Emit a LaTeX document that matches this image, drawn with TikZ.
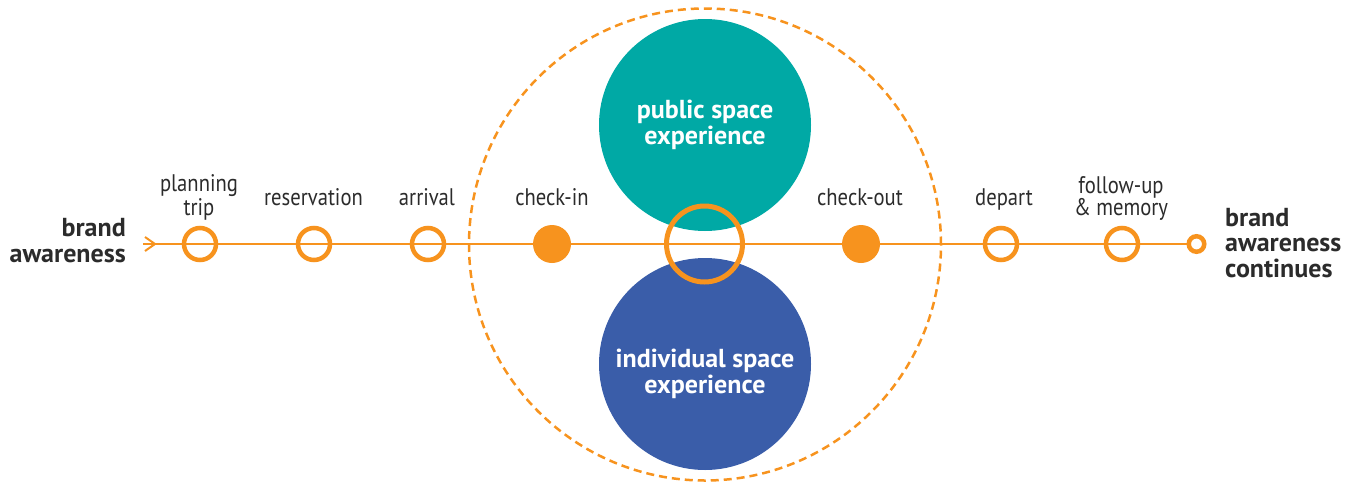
\documentclass[tikz,border=0pt]{standalone}
\usepackage{fontspec}
\setmainfont{PT Sans}
\newfontfamily\lblfont[FakeStretch=0.86]{PT Sans}
\definecolor{jorange}{HTML}{F7931E}
\definecolor{jteal}{HTML}{00A9A5}
\definecolor{jblue}{HTML}{3A5DA9}
\definecolor{jtext}{HTML}{2B2B2B}
\begin{document}
\begin{tikzpicture}[x=1pt,y=-1pt,
  stepring/.style={circle,draw=jorange,line width=4.5pt,minimum size=32pt,inner sep=0pt},
  stepdot/.style={circle,fill=jorange,minimum size=38pt,inner sep=0pt},
  lbl/.style={font=\lblfont\fontsize{24}{22}\selectfont,text=jtext,align=center,inner sep=0pt,anchor=base},
  bigl/.style={font=\fontsize{26}{25.5}\selectfont\bfseries,text=jtext,inner sep=0pt,anchor=base},
  inlbl/.style={font=\fontsize{26}{26}\selectfont\bfseries,text=white,align=center,inner sep=0pt,anchor=base},
  flow/.style={draw=jorange,line width=2pt}]
\useasboundingbox (0,0) rectangle (1361,485);
% big circles
\node[circle,fill=jteal,minimum size=212pt,inner sep=0pt] (pub) at (705,125) {};
\node[circle,fill=jblue,minimum size=212pt,inner sep=0pt] (ind) at (705,364) {};
\node[circle,draw=jorange,dashed,dash pattern=on 8pt off 5pt,line width=2.5pt,minimum size=472pt,inner sep=0pt] (outer) at (705,244.5) {};
\node[inlbl] at (705,144) {public space\\experience};
\node[inlbl] at (705,393) {individual space\\experience};
% flow
\coordinate (start) at (143,244);
\node[circle,draw=jorange,fill=white,line width=4.5pt,minimum size=15.5pt,inner sep=0pt] (end) at (1196.5,244) {};
\draw[flow] (start) -- (end);
\draw[jorange,line width=2pt,line join=miter] ([xshift=2pt,yshift=-7pt]start) -- ([xshift=12pt]start) -- ([xshift=2pt,yshift=7pt]start);
% steps
\node[stepring] (plan) at (200,244) {};
\node[stepring] (res) at (314,244) {};
\node[stepring] (arr) at (428,244) {};
\node[stepdot] (cin) at (552,244) {};
\node[circle,draw=jorange,line width=5pt,minimum size=76pt,inner sep=0pt] (core) at (704.5,244) {};
\node[stepdot] (cout) at (861,244) {};
\node[stepring] (dep) at (1001,244) {};
\node[stepring] (fol) at (1122,244) {};
% labels
\node[lbl] at (199,215) {planning\\trip};
\node[lbl] at (313.5,205.5) {reservation};
\node[lbl] at (427,205.5) {arrival};
\node[lbl] at (552,205.5) {check-in};
\node[lbl] at (860,205.5) {check-out};
\node[lbl] at (1004,205.5) {depart};
\node[lbl] at (1121,215) {follow-up\\\& memory};
\node[bigl,align=right,anchor=base east] at (126,262) {brand\\awareness};
\node[bigl,align=left,anchor=base west] at (1225,277) {brand\\awareness\\continues};
\end{tikzpicture}
\end{document}
